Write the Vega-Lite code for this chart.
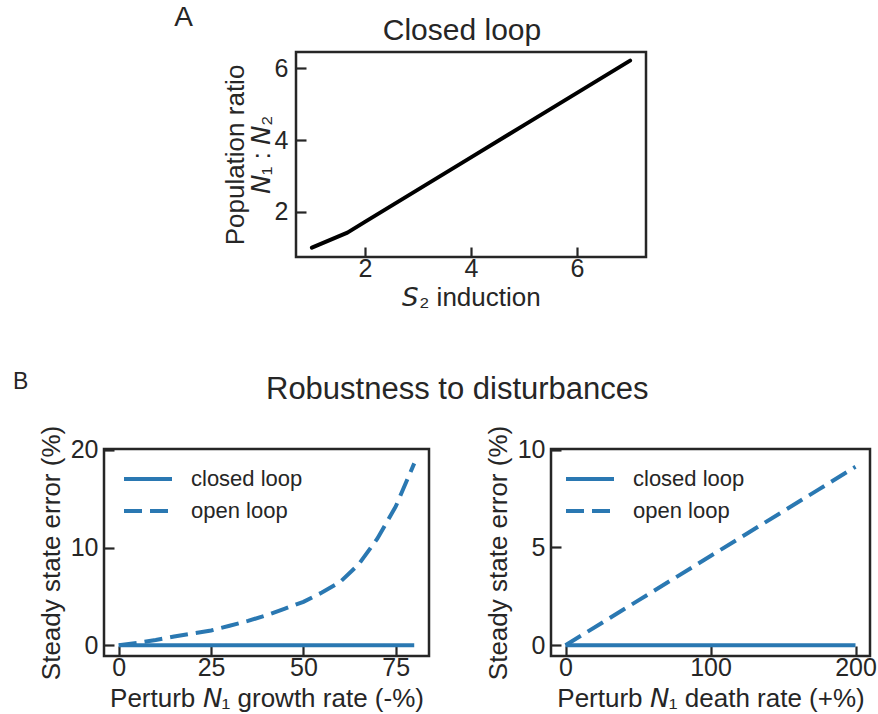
{
  "$schema": "https://vega.github.io/schema/vega-lite/v6.json",
  "background": "white",
  "padding": {"left": 12, "top": 4, "right": 0, "bottom": 0},
  "datasets": {
    "ratio": [
      {"s2": 1.0, "ratio": 1.0},
      {"s2": 1.67, "ratio": 1.42},
      {"s2": 2.0, "ratio": 1.72},
      {"s2": 3.0, "ratio": 2.62},
      {"s2": 4.0, "ratio": 3.52},
      {"s2": 5.0, "ratio": 4.42},
      {"s2": 6.0, "ratio": 5.32},
      {"s2": 7.0, "ratio": 6.22}
    ],
    "growth": [
      {"perturb": 0, "error": 0, "loop": "closed loop"},
      {"perturb": 10, "error": 0, "loop": "closed loop"},
      {"perturb": 20, "error": 0, "loop": "closed loop"},
      {"perturb": 30, "error": 0, "loop": "closed loop"},
      {"perturb": 40, "error": 0, "loop": "closed loop"},
      {"perturb": 50, "error": 0, "loop": "closed loop"},
      {"perturb": 60, "error": 0, "loop": "closed loop"},
      {"perturb": 70, "error": 0, "loop": "closed loop"},
      {"perturb": 80, "error": 0, "loop": "closed loop"},
      {"perturb": 0, "error": 0, "loop": "open loop"},
      {"perturb": 5, "error": 0.25, "loop": "open loop"},
      {"perturb": 10, "error": 0.55, "loop": "open loop"},
      {"perturb": 15, "error": 0.9, "loop": "open loop"},
      {"perturb": 20, "error": 1.22, "loop": "open loop"},
      {"perturb": 25, "error": 1.52, "loop": "open loop"},
      {"perturb": 30, "error": 2.0, "loop": "open loop"},
      {"perturb": 35, "error": 2.5, "loop": "open loop"},
      {"perturb": 40, "error": 3.08, "loop": "open loop"},
      {"perturb": 45, "error": 3.75, "loop": "open loop"},
      {"perturb": 50, "error": 4.45, "loop": "open loop"},
      {"perturb": 55, "error": 5.4, "loop": "open loop"},
      {"perturb": 60, "error": 6.5, "loop": "open loop"},
      {"perturb": 65, "error": 8.3, "loop": "open loop"},
      {"perturb": 70, "error": 10.9, "loop": "open loop"},
      {"perturb": 75, "error": 14.2, "loop": "open loop"},
      {"perturb": 80, "error": 18.6, "loop": "open loop"}
    ],
    "death": [
      {"perturb": 0, "error": 0, "loop": "closed loop"},
      {"perturb": 50, "error": 0, "loop": "closed loop"},
      {"perturb": 100, "error": 0, "loop": "closed loop"},
      {"perturb": 150, "error": 0, "loop": "closed loop"},
      {"perturb": 200, "error": 0, "loop": "closed loop"},
      {"perturb": 0, "error": 0, "loop": "open loop"},
      {"perturb": 25, "error": 1.14, "loop": "open loop"},
      {"perturb": 50, "error": 2.28, "loop": "open loop"},
      {"perturb": 75, "error": 3.42, "loop": "open loop"},
      {"perturb": 100, "error": 4.56, "loop": "open loop"},
      {"perturb": 125, "error": 5.7, "loop": "open loop"},
      {"perturb": 150, "error": 6.84, "loop": "open loop"},
      {"perturb": 175, "error": 7.98, "loop": "open loop"},
      {"perturb": 200, "error": 9.12, "loop": "open loop"}
    ]
  },
  "config": {
    "font": "Liberation Sans",
    "view": {"stroke": "#262626", "strokeWidth": 2.5},
    "axis": {
      "domain": false,
      "grid": false,
      "tickSize": -10,
      "tickWidth": 2.2,
      "tickColor": "#262626",
      "labelFont": "Liberation Sans",
      "labelFontSize": 25,
      "labelColor": "#262626",
      "titleFont": "Liberation Sans",
      "titleFontSize": 26,
      "titleFontWeight": "normal",
      "titleColor": "#262626"
    },
    "axisX": {"labelPadding": 9, "titlePadding": 3},
    "axisY": {"labelPadding": 16, "titlePadding": 6},
    "title": {"font": "Liberation Sans", "fontWeight": "normal", "color": "#262626", "baseline": "alphabetic"},
    "legend": {
      "orient": "none",
      "title": null,
      "padding": 0,
      "symbolType": "stroke",
      "symbolSize": 2304,
      "symbolStrokeWidth": 4,
      "symbolStrokeColor": "#2a78b2",
      "labelFont": "Liberation Sans",
      "labelFontSize": 22,
      "labelColor": "#262626",
      "labelOffset": 17,
      "clipHeight": 24,
      "rowPadding": 8
    }
  },
  "spacing": 59,
  "resolve": {"scale": {"strokeDash": "independent"}, "legend": {"strokeDash": "independent"}},
  "vconcat": [
    {
      "spacing": 20,
      "hconcat": [
        {
          "width": 96,
          "height": 1,
          "view": {"stroke": null},
          "title": {"text": "A", "fontSize": 28, "anchor": "end", "dx": -7, "offset": 20},
          "data": {"values": []},
          "mark": {"type": "point", "opacity": 0}
        },
        {
          "width": 350,
          "height": 205,
          "title": {"text": "Closed loop", "fontSize": 30, "offset": 6, "dx": -9},
          "data": {"name": "ratio"},
          "mark": {"type": "line", "color": "#000000", "strokeWidth": 4, "strokeCap": "round", "strokeJoin": "round"},
          "encoding": {
            "x": {
              "field": "s2", "type": "quantitative",
              "scale": {"domain": [0.7, 7.3], "nice": false, "zero": false},
              "axis": {"values": [2, 4, 6], "title": "𝘚₂ induction"}
            },
            "y": {
              "field": "ratio", "type": "quantitative",
              "scale": {"domain": [0.74, 6.46], "nice": false, "zero": false},
              "axis": {"values": [2, 4, 6], "title": ["Population ratio", "𝘕₁ : 𝘕₂"], "labelPadding": 18, "titlePadding": 0, "titleLineHeight": 26}
            }
          }
        }
      ]
    },
    {
      "title": {"text": "B", "fontSize": 23, "anchor": "start", "dx": -24, "dy": 20, "offset": 0},
      "resolve": {"scale": {"strokeDash": "independent"}, "legend": {"strokeDash": "independent"}},
      "vconcat": [
        {
          "title": {"text": "Robustness to disturbances", "fontSize": 31, "anchor": "middle", "offset": 18},
          "spacing": 52,
          "resolve": {"scale": {"strokeDash": "independent"}, "legend": {"strokeDash": "independent"}},
          "hconcat": [
            {
              "width": 325,
              "height": 207,
              "data": {"name": "growth"},
              "mark": {"type": "line", "color": "#2a78b2", "strokeWidth": 4},
              "encoding": {
                "x": {
                  "field": "perturb", "type": "quantitative",
                  "scale": {"domain": [-4, 84], "nice": false, "zero": false},
                  "axis": {"values": [0, 25, 50, 75], "title": "Perturb 𝘕₁ growth rate (-%)", "titlePadding": 5}
                },
                "y": {
                  "field": "error", "type": "quantitative",
                  "scale": {"domain": [-1.09, 20.07], "nice": false, "zero": false},
                  "axis": {"values": [0, 10, 20], "title": "Steady state error (%)"}
                },
                "strokeDash": {
                  "field": "loop", "type": "nominal",
                  "scale": {"domain": ["closed loop", "open loop"], "range": [[1, 0], [18, 8]]},
                  "legend": {"legendX": 18, "legendY": 18}
                }
              }
            },
            {
              "width": 319,
              "height": 207,
              "data": {"name": "death"},
              "mark": {"type": "line", "color": "#2a78b2", "strokeWidth": 4},
              "encoding": {
                "x": {
                  "field": "perturb", "type": "quantitative",
                  "scale": {"domain": [-10, 210], "nice": false, "zero": false},
                  "axis": {"values": [0, 100, 200], "title": "Perturb 𝘕₁ death rate (+%)", "titlePadding": 5}
                },
                "y": {
                  "field": "error", "type": "quantitative",
                  "scale": {"domain": [-0.55, 10.03], "nice": false, "zero": false},
                  "axis": {"values": [0, 5, 10], "title": "Steady state error (%)"}
                },
                "strokeDash": {
                  "field": "loop", "type": "nominal",
                  "scale": {"domain": ["closed loop", "open loop"], "range": [[1, 0], [18, 8]]},
                  "legend": {"legendX": 13, "legendY": 18}
                }
              }
            }
          ]
        }
      ]
    }
  ]
}
